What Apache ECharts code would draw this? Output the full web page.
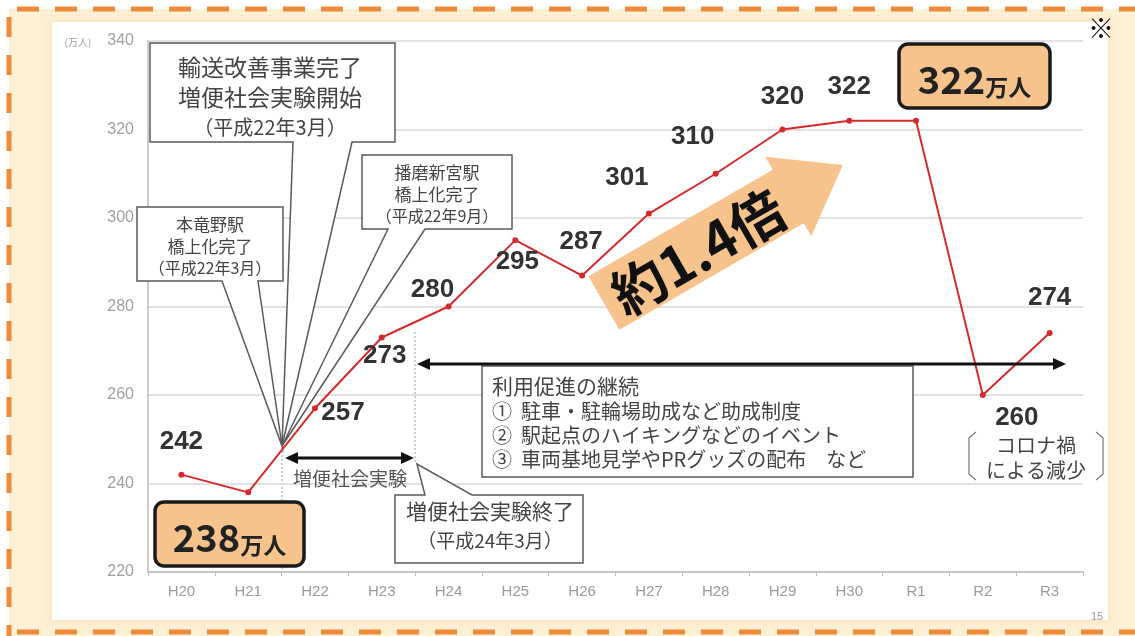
<!DOCTYPE html>
<html>
<head>
<meta charset="utf-8">
<script src="https://cdn.jsdelivr.net/npm/echarts@6/dist/echarts.min.js"></script>
<style>
  html, body { margin: 0; padding: 0; background: #fff; }
  #chart { width: 1135px; height: 636px; }
</style>
</head>
<body>
<div id="chart"></div>
<script>
// Fiscal years (Heisei / Reiwa) and annual ridership in 万人
const years = ['H20', 'H21', 'H22', 'H23', 'H24', 'H25', 'H26', 'H27', 'H28', 'H29', 'H30', 'R1', 'R2', 'R3'];
const riders = [242, 238, 257, 273, 280, 295, 287, 301, 310, 320, 322, 322, 260, 274];
const yMin = 220;
const yMax = 340;
const yStep = 20;

// Where each value label sits relative to its point ([dx, dy]); null = no label
const labelOffsets = [
  [0, -33], null, [28, 5], [3, 18], [-16, -17], [2, 22], [-1, -34],
  [-22, -36], [-23, -37], [0, -33], [0, -34], null, [34, 23], [0, -35]
];

const FONT = '"Noto Sans CJK JP", "Noto Sans", sans-serif';
const NUM_FONT = '"Liberation Sans", Arial, sans-serif';
const RED = '#d42a2e';
const TAN = '#f6c38c';
const ORANGE = '#ef8a3a';

function txt(x, y, s, size, o = {}) {
  return {
    type: 'text', x, y, z: o.z ?? 6, rotation: o.rotation || 0,
    style: {
      text: s, fontSize: size, fontFamily: o.family || FONT,
      fontWeight: o.weight || 'normal', fill: o.color || '#444',
      align: o.align || 'center', verticalAlign: 'middle',
      textAlign: o.align || 'center', textVerticalAlign: 'middle'
    }
  };
}

// Callout box with a pointer wedge; side tells which edge the wedge leaves from
function callout(x1, y1, x2, y2, a, b, px, py, side) {
  const pts = side === 'top'
    ? [[x1, y1], [a, y1], [px, py], [b, y1], [x2, y1], [x2, y2], [x1, y2]]
    : [[x1, y1], [x2, y1], [x2, y2], [b, y2], [px, py], [a, y2], [x1, y2]];
  return {
    type: 'polygon', z: 1,
    shape: { points: pts },
    style: { fill: '#fff', stroke: '#5a5a5a', lineWidth: 1.5 }
  };
}

function seg(x1, y1, x2, y2, o = {}) {
  return {
    type: 'line', z: o.z ?? 3,
    shape: { x1, y1, x2, y2 },
    style: { stroke: o.color || '#111', lineWidth: o.width || 3, lineDash: o.dash || null }
  };
}

function head(x, y, dir) {
  // dir = -1 points left, +1 points right
  return {
    type: 'polygon', z: 3,
    shape: { points: [[x, y], [x - dir * 13, y - 6], [x - dir * 13, y + 6]] },
    style: { fill: '#111' }
  };
}

function badge(x, y, w, h, num) {
  return [
    {
      type: 'rect', z: 4,
      shape: { x, y, width: w, height: h, r: 9 },
      style: { fill: TAN, stroke: '#1a1a1a', lineWidth: 3.5 }
    },
    {
      type: 'text', z: 5, x: x + w / 2, y: y + h / 2 + 1,
      style: {
        text: '{n|' + num + '}{u|万人}',
        align: 'center', verticalAlign: 'middle',
        textAlign: 'center', textVerticalAlign: 'middle',
        rich: {
          n: { fontSize: 38, fontWeight: 'bold', fontFamily: FONT, fill: '#222', color: '#222', verticalAlign: 'bottom', lineHeight: 44 },
          u: { fontSize: 23, fontWeight: 'bold', fontFamily: FONT, fill: '#222', color: '#222', verticalAlign: 'bottom', lineHeight: 34 }
        }
      }
    }
  ];
}

const seriesData = riders.map((v, i) => {
  const off = labelOffsets[i];
  return off
    ? { value: v, label: { show: true, position: 'inside', offset: off } }
    : { value: v, label: { show: false } };
});

const apex = [282, 446];
const growth = 30 * Math.PI / 180;

const graphics = [
  // page frame: cream card, white panel, dashed orange border
  { type: 'rect', z: -2, shape: { x: 9, y: 9, width: 1126, height: 627 }, style: { fill: '#fdf0d4' } },
  { type: 'rect', z: -1, shape: { x: 52, y: 22, width: 1056, height: 598 }, style: { fill: '#fff', shadowBlur: 6, shadowColor: 'rgba(240,200,140,0.5)' } },
  seg(17, 9, 1135, 9, { color: ORANGE, width: 5, dash: [22, 16], z: 0 }),
  seg(9, 17, 9, 636, { color: ORANGE, width: 5, dash: [20, 18], z: 0 }),
  seg(17, 632, 1135, 632, { color: ORANGE, width: 5, dash: [22, 16], z: 0 }),

  txt(78, 42, '(万人)', 10, { color: '#999' }),
  txt(1101, 28, '※', 26, { color: '#111' }),
  txt(1097, 617, '15', 11, { color: '#999', family: NUM_FONT }),

  // dotted guides at start / end of the trial period
  seg(282, 447, 282, 572, { color: '#9a9a9a', width: 1, dash: [2, 2], z: 0 }),
  seg(415, 332, 415, 462, { color: '#9a9a9a', width: 1, dash: [2, 2], z: 0 }),

  // callouts around the H22 events
  callout(150, 43, 395, 142, 293, 352, apex[0], apex[1], 'bottom'),
  txt(270, 67, '輸送改善事業完了', 23),
  txt(270, 97, '増便社会実験開始', 23),
  txt(270, 127, '（平成22年3月）', 20),

  callout(137, 207, 283, 281, 222, 258, apex[0], apex[1], 'bottom'),
  txt(210, 225, '本竜野駅', 17),
  txt(210, 247, '橋上化完了', 17),
  txt(210, 268, '（平成22年3月）', 16),

  callout(362, 155, 512, 229, 388, 425, apex[0], apex[1], 'bottom'),
  txt(437, 173, '播磨新宮駅', 17),
  txt(437, 195, '橋上化完了', 17),
  txt(437, 216, '（平成22年9月）', 16),

  // trial period arrow
  seg(292, 458, 406, 458),
  head(285, 458, -1),
  head(414, 458, 1),
  txt(350, 479, '増便社会実験', 19, { color: '#555' }),

  callout(395, 495, 583, 563, 425, 472, 417, 464, 'top'),
  txt(490, 511, '増便社会実験終了', 21),
  txt(490, 541, '（平成24年3月）', 19),

  // continuing promotion arrow and box
  seg(424, 364, 1058, 364),
  head(417, 364, -1),
  head(1066, 364, 1),
  {
    type: 'rect', z: 1,
    shape: { x: 482, y: 366, width: 431, height: 111 },
    style: { fill: '#fff', stroke: '#5a5a5a', lineWidth: 1.5 }
  },
  txt(492, 386, '利用促進の継続', 21, { align: 'left' }),
  txt(492, 411, '①  駐車・駐輪場助成など助成制度', 20, { align: 'left' }),
  txt(492, 435, '②  駅起点のハイキングなどのイベント', 20, { align: 'left' }),
  txt(492, 459, '③  車両基地見学やPRグッズの配布　など', 20, { align: 'left' }),

  // COVID note with brackets
  txt(1036, 445, 'コロナ禍', 20),
  txt(1036, 470, 'による減少', 20),
  {
    type: 'polyline', z: 2,
    shape: { points: [[976, 432], [969, 438], [969, 474], [976, 480]] },
    style: { stroke: '#777', lineWidth: 1.2, fill: null }
  },
  {
    type: 'polyline', z: 2,
    shape: { points: [[1096, 432], [1103, 438], [1103, 474], [1096, 480]] },
    style: { stroke: '#777', lineWidth: 1.2, fill: null }
  },

  // growth arrow
  {
    type: 'group', x: 706, y: 244, rotation: growth, z: 1,
    children: [
      {
        type: 'polygon', z: 1,
        shape: { points: [[-118, -31], [95, -31], [95, -46], [158, 0], [95, 46], [95, 31], [-118, 31]] },
        style: { fill: TAN }
      },
      txt(-11, 3, '約1.4倍', 54, { weight: 'bold', color: '#111', z: 2 })
    ]
  }
].concat(badge(155, 502, 149, 64, '238'), badge(899, 44, 151, 64, '322'));

const chart = echarts.init(document.getElementById('chart'), null, { renderer: 'canvas' });
chart.setOption({
  backgroundColor: '#fff',
  animation: false,
  grid: { left: 148, right: 52, top: 41, bottom: 64, containLabel: false },
  xAxis: {
    type: 'category',
    data: years,
    boundaryGap: true,
    axisLine: { lineStyle: { color: '#bdbdbd', width: 1.5 } },
    axisTick: { show: true, length: 4, lineStyle: { color: '#bdbdbd' } },
    axisLabel: { color: '#9a9a9a', fontSize: 15, margin: 12, fontFamily: '"Liberation Sans Narrow", "Liberation Sans", sans-serif' }
  },
  yAxis: {
    type: 'value',
    min: yMin, max: yMax, interval: yStep,
    axisLine: { show: true, lineStyle: { color: '#bdbdbd', width: 1.5 } },
    axisTick: { show: false },
    axisLabel: { color: '#a0a0a0', fontSize: 16, margin: 14, fontFamily: '"Liberation Sans Narrow", "Liberation Sans", sans-serif' },
    splitLine: { lineStyle: { color: '#d8d8d8', width: 1.5 } }
  },
  series: [{
    type: 'line',
    data: seriesData,
    z: 2,
    symbol: 'circle',
    symbolSize: 6,
    lineStyle: { color: RED, width: 2 },
    itemStyle: { color: RED },
    label: {
      formatter: '{c}', fontSize: 26, fontWeight: 'bold', color: '#333',
      fontFamily: NUM_FONT
    }
  }],
  graphic: { elements: graphics }
});
</script>
</body>
</html>
